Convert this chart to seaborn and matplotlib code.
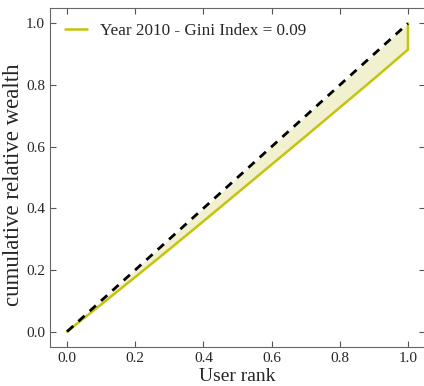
import numpy as np
import pandas as pd
import matplotlib
matplotlib.use("Agg")
import matplotlib.pyplot as plt
import seaborn as sns

# Lorenz curve (last point jumps to 1.0)
user_rank = [0.0, 0.1, 0.2, 0.3, 0.4, 0.5, 0.6, 0.7, 0.8, 0.9, 1.0, 1.0]
cum_wealth = [0.0, 0.088, 0.177, 0.267, 0.358, 0.45, 0.542, 0.634, 0.727, 0.82, 0.915, 1.0]
equality = [0.0, 1.0]
year = 2010
gini = 0.09

sns.set_style("ticks")
plt.rcParams['font.family'] = ['Liberation Serif', 'DejaVu Serif']
plt.rcParams['xtick.direction'] = 'in'
plt.rcParams['ytick.direction'] = 'in'

df = pd.DataFrame({'User rank': user_rank, 'wealth': cum_wealth})

fig = plt.figure(figsize=(4.24, 3.86), dpi=100)
ax = fig.add_axes([50/424, 39/386, 375/424, 339/386])

yel = "#c4c40e"
ax.fill_between(user_rank, cum_wealth, user_rank, color="#eeeec4", alpha=0.8, lw=0)
sns.lineplot(data=df, x='User rank', y='wealth', color=yel, lw=1.8, sort=False,
             estimator=None, ax=ax, label="Year %d - Gini Index = %.2f" % (year, gini))
sns.lineplot(x=equality, y=equality, color="black", lw=2, ax=ax, linestyle=(0, (3, 2.5)))

ax.set_xlim(-0.05, 1.05)
ax.set_ylim(-0.05, 1.05)
ax.set_xticks(np.arange(0, 1.01, 0.2))
ax.set_yticks(np.arange(0, 1.01, 0.2))
ax.tick_params(top=True, right=True, labelsize=11, length=4, color="#555555")
for s in ax.spines.values():
    s.set_color("#666666")
ax.set_xlabel("User rank", fontsize=14)
ax.set_ylabel("cumulative relative wealth", fontsize=16.5)
ax.xaxis.set_label_coords(0.5, -0.062)
ax.yaxis.set_label_coords(-0.07, 0.48)
ax.legend(loc="upper left", frameon=False, fontsize=12.3, handlelength=1.25,
          handletextpad=0.8)

fig.savefig("out.png", dpi=100)
